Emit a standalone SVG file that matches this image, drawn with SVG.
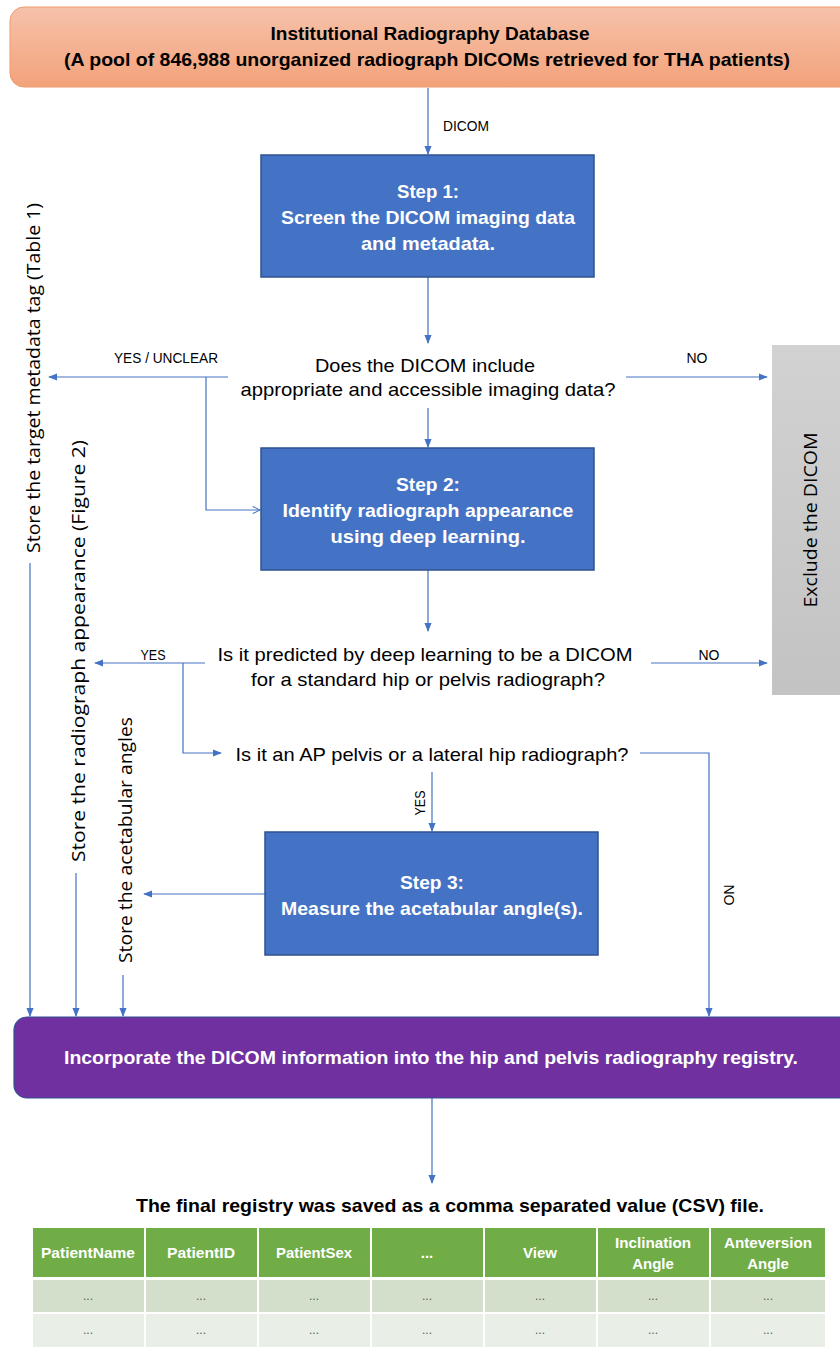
<svg xmlns="http://www.w3.org/2000/svg" width="840" height="1347" viewBox="0 0 840 1347">
<defs>
<linearGradient id="gOr" x1="0" y1="0" x2="0" y2="1"><stop offset="0" stop-color="#f6c2aa"/><stop offset="1" stop-color="#f3a27a"/></linearGradient>
<linearGradient id="gGr" x1="0" y1="0" x2="0" y2="1"><stop offset="0" stop-color="#d2d2d2"/><stop offset="1" stop-color="#c3c3c3"/></linearGradient>
<marker id="ah" viewBox="0 0 10 10" refX="9" refY="5" markerWidth="9" markerHeight="9" markerUnits="userSpaceOnUse" orient="auto"><path d="M0,1 L10,5 L0,9 z" fill="#4472c4"/></marker>
<marker id="ao" viewBox="0 0 10 10" refX="9" refY="5" markerWidth="9" markerHeight="9" markerUnits="userSpaceOnUse" orient="auto"><path d="M1,1 L9,5 L1,9" fill="none" stroke="#4472c4" stroke-width="1.2"/></marker>
<style>
.c{fill:none;stroke:#4472c4;stroke-width:1.2;marker-end:url(#ah)}
.step{fill:#4472c4;stroke:#2f528f;stroke-width:1.5}
.wb{font-family:"Liberation Sans",Arial,sans-serif;font-weight:bold;font-size:19px;fill:#fff;text-anchor:middle}
.kb{font-family:"Liberation Sans",Arial,sans-serif;font-weight:bold;font-size:19px;fill:#000;text-anchor:middle}
.q{font-family:"Liberation Sans",Arial,sans-serif;font-size:19px;fill:#000;text-anchor:middle}
.lb{font-family:"Liberation Sans",Arial,sans-serif;font-size:14px;fill:#000;text-anchor:middle}
.rot{font-family:"Open Sans","Liberation Sans",sans-serif;font-size:18px;fill:#000;text-anchor:middle}
.th{font-family:"Liberation Sans",Arial,sans-serif;font-weight:bold;font-size:15px;fill:#fff;text-anchor:middle}
.td{font-family:"Liberation Sans",Arial,sans-serif;font-size:12px;fill:#595959;text-anchor:middle}
</style>
</defs>
<rect width="840" height="1347" fill="#fff"/>

<g id="connectors">
<path class="c" d="M428,88 V154"/>
<path class="c" d="M428,277 V343"/>
<path class="c" d="M428,408 V447"/>
<path class="c" d="M228,377 H49"/>
<path d="M206,377 V510 H260" fill="none" stroke="#4472c4" stroke-width="1.2" marker-end="url(#ao)"/>
<path class="c" d="M626,377 H767"/>
<path class="c" d="M428,570 V631"/>
<path class="c" d="M205,663 H95"/>
<path class="c" d="M183,663 V753 H221"/>
<path class="c" d="M651,663 H767"/>
<path class="c" d="M640,753 H709 V1016"/>
<path class="c" d="M432,772 V831"/>
<path class="c" d="M265,894 H144"/>
<path class="c" d="M30,563 V1016"/>
<path class="c" d="M76,873 V1016"/>
<path class="c" d="M123,975 V1016"/>
<path class="c" d="M432,1098 V1183"/>
<text class="lb" x="466" y="131" textLength="46" lengthAdjust="spacingAndGlyphs">DICOM</text>
<text class="lb" x="166" y="363" textLength="104" lengthAdjust="spacingAndGlyphs">YES / UNCLEAR</text>
<text class="lb" x="697" y="363" textLength="21" lengthAdjust="spacingAndGlyphs">NO</text>
<text class="lb" x="153" y="660" textLength="25" lengthAdjust="spacingAndGlyphs">YES</text>
<text class="lb" x="709" y="660" textLength="21" lengthAdjust="spacingAndGlyphs">NO</text>
<text class="lb" transform="translate(425,803) rotate(-90)" textLength="25" lengthAdjust="spacingAndGlyphs">YES</text>
<text class="lb" transform="translate(724,895) rotate(90)" textLength="21" lengthAdjust="spacingAndGlyphs">NO</text>
</g>

<g id="db">
<rect x="10" y="7" width="850" height="80" rx="14" fill="url(#gOr)" stroke="#ee9a70" stroke-width="1"/>
<text class="kb" x="430" y="40" textLength="319" lengthAdjust="spacingAndGlyphs">Institutional Radiography Database</text>
<text class="kb" x="427" y="66" textLength="726" lengthAdjust="spacingAndGlyphs">(A pool of 846,988 unorganized radiograph DICOMs retrieved for THA patients)</text>
</g>

<g id="step1">
<rect class="step" x="261" y="155" width="333" height="122"/>
<text class="wb" x="428" y="198" textLength="62" lengthAdjust="spacingAndGlyphs">Step 1:</text>
<text class="wb" x="428" y="224" textLength="294" lengthAdjust="spacingAndGlyphs">Screen the DICOM imaging data</text>
<text class="wb" x="428" y="250" textLength="134" lengthAdjust="spacingAndGlyphs">and metadata.</text>
</g>

<g id="q1">
<text class="q" x="425" y="372" textLength="220" lengthAdjust="spacingAndGlyphs">Does the DICOM include</text>
<text class="q" x="428" y="396" textLength="375" lengthAdjust="spacingAndGlyphs">appropriate and accessible imaging data?</text>
</g>

<g id="exclude">
<rect x="772" y="345" width="80" height="350" fill="url(#gGr)"/>
<text class="rot" transform="translate(817,520) rotate(-90)" textLength="175" lengthAdjust="spacingAndGlyphs">Exclude the DICOM</text>
</g>

<g id="step2">
<rect class="step" x="261" y="448" width="333" height="122"/>
<text class="wb" x="428" y="491" textLength="64" lengthAdjust="spacingAndGlyphs">Step 2:</text>
<text class="wb" x="428" y="517" textLength="291" lengthAdjust="spacingAndGlyphs">Identify radiograph appearance</text>
<text class="wb" x="428" y="543" textLength="195" lengthAdjust="spacingAndGlyphs">using deep learning.</text>
</g>

<g id="q2">
<text class="q" x="425" y="661" textLength="415" lengthAdjust="spacingAndGlyphs">Is it predicted by deep learning to be a DICOM</text>
<text class="q" x="428" y="686" textLength="354" lengthAdjust="spacingAndGlyphs">for a standard hip or pelvis radiograph?</text>
</g>

<g id="q3">
<text class="q" x="432" y="761" textLength="393" lengthAdjust="spacingAndGlyphs">Is it an AP pelvis or a lateral hip radiograph?</text>
</g>

<g id="step3">
<rect class="step" x="265" y="832" width="333" height="123"/>
<text class="wb" x="432" y="889" textLength="64" lengthAdjust="spacingAndGlyphs">Step 3:</text>
<text class="wb" x="432" y="915" textLength="302" lengthAdjust="spacingAndGlyphs">Measure the acetabular angle(s).</text>
</g>

<g id="store-meta">
<text class="rot" transform="translate(40,378) rotate(-90)" textLength="350" lengthAdjust="spacingAndGlyphs">Store the target metadata tag (Table 1)</text>
</g>
<g id="store-appearance">
<text class="rot" transform="translate(85,651) rotate(-90)" textLength="422" lengthAdjust="spacingAndGlyphs">Store the radiograph appearance (Figure 2)</text>
</g>
<g id="store-angles">
<text class="rot" transform="translate(132,840) rotate(-90)" textLength="246" lengthAdjust="spacingAndGlyphs">Store the acetabular angles</text>
</g>

<g id="registry">
<rect x="14" y="1017" width="850" height="81" rx="13" fill="#7030a0" stroke="#2f528f" stroke-width="1.2"/>
<text class="wb" x="431" y="1064" textLength="734" lengthAdjust="spacingAndGlyphs">Incorporate the DICOM information into the hip and pelvis radiography registry.</text>
</g>

<g id="csv">
<text class="kb" x="450" y="1212" textLength="628" lengthAdjust="spacingAndGlyphs">The final registry was saved as a comma separated value (CSV) file.</text>
<g fill="#70ad47">
<rect x="33" y="1228" width="111" height="49"/><rect x="146" y="1228" width="111" height="49"/><rect x="259" y="1228" width="111" height="49"/><rect x="372" y="1228" width="111" height="49"/><rect x="485" y="1228" width="111" height="49"/><rect x="598" y="1228" width="111" height="49"/><rect x="711" y="1228" width="114" height="49"/>
</g>
<g fill="#d3dfcb">
<rect x="33" y="1280" width="111" height="32"/><rect x="146" y="1280" width="111" height="32"/><rect x="259" y="1280" width="111" height="32"/><rect x="372" y="1280" width="111" height="32"/><rect x="485" y="1280" width="111" height="32"/><rect x="598" y="1280" width="111" height="32"/><rect x="711" y="1280" width="114" height="32"/>
</g>
<g fill="#e9eee6">
<rect x="33" y="1314" width="111" height="33"/><rect x="146" y="1314" width="111" height="33"/><rect x="259" y="1314" width="111" height="33"/><rect x="372" y="1314" width="111" height="33"/><rect x="485" y="1314" width="111" height="33"/><rect x="598" y="1314" width="111" height="33"/><rect x="711" y="1314" width="114" height="33"/>
</g>
<text class="th" x="88" y="1258" textLength="94" lengthAdjust="spacingAndGlyphs">PatientName</text>
<text class="th" x="201" y="1258" textLength="68" lengthAdjust="spacingAndGlyphs">PatientID</text>
<text class="th" x="314" y="1258" textLength="76" lengthAdjust="spacingAndGlyphs">PatientSex</text>
<text class="th" x="427" y="1258">...</text>
<text class="th" x="540" y="1258">View</text>
<text class="th" x="653" y="1248" textLength="76" lengthAdjust="spacingAndGlyphs">Inclination</text>
<text class="th" x="653" y="1269">Angle</text>
<text class="th" x="768" y="1248" textLength="88" lengthAdjust="spacingAndGlyphs">Anteversion</text>
<text class="th" x="768" y="1269">Angle</text>
<g class="td">
<text x="88" y="1300">...</text><text x="201" y="1300">...</text><text x="314" y="1300">...</text><text x="427" y="1300">...</text><text x="540" y="1300">...</text><text x="653" y="1300">...</text><text x="768" y="1300">...</text>
<text x="88" y="1334">...</text><text x="201" y="1334">...</text><text x="314" y="1334">...</text><text x="427" y="1334">...</text><text x="540" y="1334">...</text><text x="653" y="1334">...</text><text x="768" y="1334">...</text>
</g>
</g>
</svg>
